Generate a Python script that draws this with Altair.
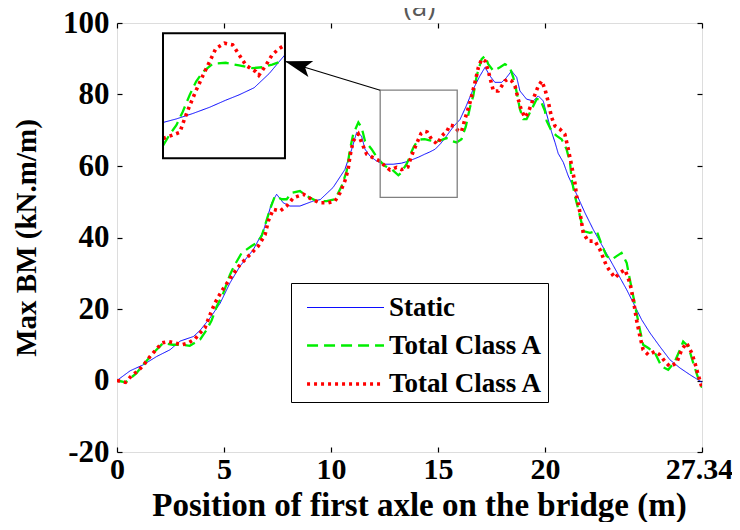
import math
import altair as alt
import pandas as pd

# ---------------- data ----------------
static_x = [0, 0.61, 1.23, 1.85, 2.48, 2.94, 3.57, 3.88, 4.35, 4.81, 5.28, 5.75, 6.37, 6.84, 7.0, 7.23,
            7.46, 7.77, 8.08, 8.55, 9.17, 9.5, 10.1, 10.65, 10.97, 11.2, 11.43, 11.59, 11.82, 12.13,
            12.44, 12.91, 13.3, 13.53, 13.81, 14.1, 14.38, 14.61, 14.87, 15.13, 15.4, 15.72, 16.03,
            16.3, 16.65, 16.96, 17.2, 17.43, 17.66, 17.98, 18.21, 18.44, 18.68, 18.83, 19.14, 19.45,
            19.69, 19.92, 20.08, 20.31, 20.47, 20.62, 20.86, 21.09, 21.48, 21.87, 22.26, 22.65, 23.04,
            23.43, 23.82, 24.13, 24.52, 24.91, 25.37, 25.84, 26.31, 26.78, 27.34]
static_y = [0, 2.7, 4.4, 6.7, 8.6, 11.0, 12.3, 14.0, 17.5, 21.5, 27.3, 32.0, 36.6, 41.8, 45.0, 49.7,
            52.1, 49.7, 48.8, 48.8, 50.2, 50.6, 54.0, 59.0, 64.7, 69.4, 68.4, 64.7, 62.8, 61.4,
            60.5, 60.5, 60.8, 61.2, 61.8, 62.5, 63.3, 63.9, 64.7, 66.3, 68.4, 71.0, 73.0,
            76.5, 81.5, 85.2, 87.6, 85.2, 83.4, 83.4, 84.8, 86.6, 84.8, 81.0, 78.7, 78.2,
            79.6, 78.2, 74.5, 69.5, 66.6, 63.5, 61.0, 57.2, 52.1, 46.9, 42.2, 38.0, 33.8,
            29.6, 25.4, 21.7, 17.0, 13.3, 9.5, 5.8, 3.5, 1.6, -0.5]

green_x = [0, 0.4, 0.9, 1.23, 1.7, 2.16, 2.6, 3.0, 3.4, 3.88, 4.19, 4.42, 4.66, 4.97, 5.28, 5.51, 5.83,
           6.29, 6.53, 6.76, 7.15, 7.38, 7.7, 7.93, 8.16, 8.55, 8.86, 9.33, 9.8, 10.19, 10.5, 10.73,
           10.89, 11.04, 11.28, 11.43, 11.59, 11.9, 12.21, 12.52, 12.84, 13.15, 13.3, 13.41, 13.53,
           13.64, 13.76, 13.87, 13.99, 14.16, 14.38, 14.61, 14.84, 15.01, 15.18, 15.4, 15.64, 15.87,
           16.1, 16.3, 16.5, 16.65, 16.81, 17.04, 17.2, 17.35, 17.59, 17.9, 18.13, 18.36, 18.52,
           18.68, 18.83, 18.99, 19.14, 19.38, 19.61, 19.77, 20.0, 20.08, 20.31, 20.55, 20.78, 21.01,
           21.17, 21.25, 21.4, 21.56, 21.71, 21.79, 22.1, 22.42, 22.65, 22.88, 23.12, 23.35, 23.58,
           23.82, 23.97, 24.13, 24.28, 24.44, 24.59, 24.83, 25.14, 25.45, 25.76, 26.07, 26.31,
           26.46, 26.7, 26.93, 27.16, 27.34]
green_y = [0, -0.5, 2.0, 4.4, 7.7, 10.5, 10.0, 10.0, 9.7, 11.4, 14.2, 16.8, 20.7, 24.5, 29.6, 32.4, 35.7,
           37.6, 38.5, 40.4, 47.9, 51.6, 50.7, 50.7, 52.5, 53.0, 51.6, 50.2, 50.2, 50.7, 54.4, 58.5,
           64.7, 68.9, 72.2, 70.8, 67.0, 64.7, 61.9, 60.0, 59.1, 57.4, 58.2, 59.4, 60.5,
           62.0, 63.9, 65.4, 66.5, 67.4, 67.5, 67.2, 66.9, 67.0, 67.3, 67.8, 67.0, 66.6,
           67.5, 71.0, 76.5, 79.6, 85.2, 89.9, 90.8, 88.5, 86.6, 87.6, 88.5, 87.6, 84.8,
           80.6, 75.9, 73.1, 73.1, 75.9, 78.7, 78.7, 75.4, 72.6, 69.8, 68.4, 67.5, 64.7,
           61.0, 56.3, 51.6, 47.9, 44.1, 41.8, 41.3, 41.8, 38.0, 34.8, 33.8, 34.8, 35.7,
           32.9, 28.2, 23.5, 18.9, 14.2, 10.0, 9.1, 7.7, 3.9, 3.0, 5.3, 8.6,
           10.9, 9.5, 4.9, 0.7, -2.0]

red_x = [0, 0.4, 0.69, 0.98, 1.23, 1.54, 1.85, 2.09, 2.4, 2.7, 3.02, 3.33, 3.64, 3.88, 4.11, 4.35, 4.58,
         4.89, 5.36, 5.75, 6.21, 6.6, 6.92, 7.07, 7.3, 7.62, 7.93, 8.24, 8.71, 9.1, 9.49, 9.88, 10.19,
         10.42, 10.65, 10.8, 10.89, 11.04, 11.28, 11.43, 11.67, 11.98, 12.29, 12.52, 12.76, 13.07,
         13.3, 13.47, 13.59, 13.67, 13.76, 13.87, 13.99, 14.1, 14.21, 14.36, 14.5, 14.61, 14.73,
         14.9, 14.95, 15.07, 15.18, 15.3, 15.4, 15.56, 15.75, 15.95, 16.1, 16.26, 16.5, 16.73,
         16.89, 17.04, 17.2, 17.35, 17.51, 17.59, 17.82, 17.98, 18.13, 18.29, 18.44, 18.6, 18.75,
         18.91, 19.07, 19.22, 19.45, 19.69, 19.85, 20.0, 20.16, 20.31, 20.47, 20.7, 20.93, 21.09,
         21.25, 21.4, 21.48, 21.64, 21.79, 22.02, 22.34, 22.57, 22.88, 23.27, 23.5, 23.74, 23.97,
         24.13, 24.28, 24.44, 24.59, 24.83, 25.14, 25.37, 25.61, 25.84, 26.15, 26.39, 26.62,
         26.86, 27.01, 27.16, 27.34]
red_y = [0, -0.5, 1.4, 2.7, 4.2, 6.7, 8.8, 10.5, 10.9, 10.5, 10.0, 10.5, 11.6, 13.3, 14.7, 18.4, 21.7,
         25.0, 29.2, 32.4, 35.2, 37.6, 40.8, 44.6, 47.9, 47.4, 48.8, 51.1, 52.1, 50.7, 49.7, 49.7, 50.2,
         52.5, 55.8, 59.0, 62.8, 67.0, 68.9, 66.6, 63.3, 62.3, 61.4, 60.0, 58.9, 59.6,
         59.0, 59.4, 59.7, 61.2, 62.7, 64.4, 66.1, 67.6, 69.1, 69.7, 69.5, 68.4, 67.2,
         66.5, 66.1, 67.2, 68.4, 69.1, 69.5, 71.4, 71.2, 69.8, 69.6, 73.1, 77.8, 83.4,
         87.6, 89.9, 89.4, 86.6, 82.9, 81.0, 81.0, 82.4, 83.8, 84.3, 83.8, 82.4, 78.7,
         75.4, 73.6, 75.0, 78.7, 82.4, 83.8, 81.5, 77.8, 73.6, 71.2, 70.3, 68.9, 64.7,
         60.0, 55.3, 51.6, 46.9, 41.3, 39.0, 39.0, 36.6, 32.0, 28.7, 30.1, 31.0, 27.3,
         22.6, 17.0, 12.3, 8.6, 7.2, 8.1, 7.2, 5.3, 3.9, 4.9, 8.6, 10.5,
         7.7, 4.9, 1.6, -2.0]

series_keys = ["s1", "s2", "s3"]
series_names = ["Static", "Total Class A", "Total Class A"]
series_colors = ["#0000ff", "#00ee00", "#ff0000"]
series_dash = [[1, 0], [11, 6], [3, 4]]
series_width = [1.0, 3.6, 3.6]

x_ticks = [0, 5, 10, 15, 20, 27.34]
y_ticks = [-20, 0, 20, 40, 60, 80, 100]
x_domain = [0, 27.34]
y_domain = [-20, 100]

zoom_box = [12.3, 15.9, 51.2, 81.2]          # region marked in the main plot
inset_src_x = [13.3, 15.4]                   # data range shown in the inset
inset_src_y = [56.8, 70.8]
inset_box = [2.15, 7.85, 62.2, 97.1]         # where the inset sits (main data coords)
arrow_from = [12.3, 81.2]
arrow_to = [7.85, 89.3]

# ---------------- layout ----------------
W, H = 585, 429
PAD_L, PAD_T = 109, 15
PAD_R, PAD_B = 740 - 16 - PAD_L - W, 530 - 16 - PAD_T - H
FONT = "Liberation Serif"

rows = []
for key, xs, ys in zip(series_keys, [static_x, green_x, red_x], [static_y, green_y, red_y]):
    for i, (xv, yv) in enumerate(zip(xs, ys)):
        rows.append({"series": key, "x": xv, "y": yv, "i": i})
df = pd.DataFrame(rows)

xs_ = alt.Scale(domain=x_domain, nice=False, zero=False)
ys_ = alt.Scale(domain=y_domain, nice=False, zero=False)

pad_txt = "\u00a0\u00a0\u00a0"
label_expr = " : ".join(
    [f"datum.value == '{k}' ? '{n}{pad_txt}'" for k, n in zip(series_keys[:-1], series_names[:-1])]
    + [f"'{series_names[-1]}{pad_txt}'"]
)

r = 19
legend = alt.Legend(
    title=None, orient="none", legendX=174, legendY=260,
    strokeColor="black", fillColor="white", padding=5, rowPadding=4,
    symbolType="M-3.05,0L1,0", symbolSize=(2 * r) ** 2, symbolOffset=48,
    labelOffset=3, labelFont=FONT, labelFontSize=27, labelFontWeight="bold",
    labelColor="black", labelExpr=label_expr, labelLimit=400,
)

color = alt.Color("series:N", scale=alt.Scale(domain=series_keys, range=series_colors), legend=legend)
dash = alt.StrokeDash("series:N", scale=alt.Scale(domain=series_keys, range=series_dash), legend=legend)
swidth = alt.StrokeWidth("series:N", scale=alt.Scale(domain=series_keys, range=series_width), legend=legend)

main_x_axis = alt.Axis(
    values=x_ticks, labelExpr="'' + datum.value", ticks=False, domain=False, grid=False,
    labelFont=FONT, labelFontSize=30, labelFontWeight="bold", labelColor="black",
    labelFlush=False, labelOverlap=False, labelPadding=2,
    labelOffset={"condition": {"test": f"datum.value == {x_ticks[-1]}", "value": -3}, "value": 0},
    title="Position of first axle on the bridge (m)", titleFont=FONT, titleFontSize=33,
    titleFontWeight="bold", titleColor="black", titleX=302, titleY=63,
    titleBaseline="alphabetic", titleAlign="center",
)
main_y_axis = alt.Axis(
    values=y_ticks, labelExpr="'' + datum.value", ticks=False, domain=False, grid=False,
    labelFont=FONT, labelFontSize=31, labelFontWeight="bold", labelColor="black",
    labelPadding=8, labelOverlap=False, labelFlush=False,
    title="Max BM (kN.m/m)", titleFont=FONT, titleFontSize=29, titleFontWeight="bold",
    titleColor="black", titleX=-82, titleY=H / 2, titleBaseline="alphabetic", titleAlign="center",
    titleAngle=270,
)

lines = alt.Chart(df).mark_line(clip=True).encode(
    x=alt.X("x:Q", scale=xs_, axis=main_x_axis),
    y=alt.Y("y:Q", scale=ys_, axis=main_y_axis),
    color=color, strokeDash=dash, strokeWidth=swidth,
    order="i:Q",
)

box_df = pd.DataFrame([{"x": zoom_box[0], "x2": zoom_box[1], "y": zoom_box[2], "y2": zoom_box[3]}])
zoom_rect = alt.Chart(box_df).mark_rect(fill=None, stroke="#808080", strokeWidth=1.3).encode(
    x=alt.X("x:Q", scale=xs_, axis=None), x2="x2", y=alt.Y("y:Q", scale=ys_, axis=None), y2="y2")

arr_df = pd.DataFrame([{"x": arrow_from[0], "y": arrow_from[1], "x2": arrow_to[0], "y2": arrow_to[1]}])
arrow_line = alt.Chart(arr_df).mark_rule(color="black", strokeWidth=1.2).encode(
    x=alt.X("x:Q", scale=xs_, axis=None), x2="x2", y=alt.Y("y:Q", scale=ys_, axis=None), y2="y2")
# screen direction from the arrow tip back to its tail (y grows downwards on screen)
dx_px = (arrow_from[0] - arrow_to[0]) * W / (x_domain[1] - x_domain[0])
dy_px = (arrow_to[1] - arrow_from[1]) * H / (y_domain[1] - y_domain[0])
ang = math.degrees(math.atan2(dy_px, dx_px)) % 360
arrow_head = alt.Chart(arr_df).mark_point(
    shape="M0,0L2,-0.62L1.55,0L2,0.62Z", size=27 ** 2, filled=True, color="black",
    opacity=1, angle=round(ang, 1)
).encode(x=alt.X("x2:Q", scale=xs_, axis=None), y=alt.Y("y2:Q", scale=ys_, axis=None))

ib_df = pd.DataFrame([{"x": inset_box[0], "x2": inset_box[1], "y": inset_box[2], "y2": inset_box[3]}])
inset_bg = alt.Chart(ib_df).mark_rect(fill="white").encode(
    x=alt.X("x:Q", scale=xs_, axis=None), x2="x2", y=alt.Y("y:Q", scale=ys_, axis=None), y2="y2")
inset_frame = alt.Chart(ib_df).mark_rect(fill=None, stroke="black", strokeWidth=2).encode(
    x=alt.X("x:Q", scale=xs_, axis=None), x2="x2", y=alt.Y("y:Q", scale=ys_, axis=None), y2="y2")

kx = (inset_box[1] - inset_box[0]) / (inset_src_x[1] - inset_src_x[0])
ky = (inset_box[3] - inset_box[2]) / (inset_src_y[1] - inset_src_y[0])
inset_lines = alt.Chart(df).transform_filter(
    alt.FieldRangePredicate(field="x", range=inset_src_x)
).transform_calculate(
    xi=f"{inset_box[0]} + (datum.x - {inset_src_x[0]}) * {kx}",
    yi=f"{inset_box[2]} + (datum.y - {inset_src_y[0]}) * {ky}",
).mark_line().encode(
    x=alt.X("xi:Q", scale=xs_, axis=None), y=alt.Y("yi:Q", scale=ys_, axis=None),
    color=color, strokeDash=dash, strokeWidth=swidth, order="i:Q",
)

# inward tick marks on all four sides
xt_df = pd.DataFrame({"v": x_ticks})
yt_df = pd.DataFrame({"v": y_ticks})
tick_common = dict(labels=False, title=None, domain=False, grid=False, tickSize=5,
                   tickColor="black", tickWidth=1.2)
ticks_top = alt.Chart(xt_df).mark_point(opacity=0).encode(
    x=alt.X("v:Q", scale=xs_, axis=alt.Axis(orient="bottom", offset=-H, values=x_ticks, **tick_common)))
ticks_bottom = alt.Chart(xt_df).mark_point(opacity=0).encode(
    x=alt.X("v:Q", scale=xs_, axis=alt.Axis(orient="top", offset=-H, values=x_ticks, **tick_common)))
ticks_left = alt.Chart(yt_df).mark_point(opacity=0).encode(
    y=alt.Y("v:Q", scale=ys_, axis=alt.Axis(orient="right", offset=-W, values=y_ticks, **tick_common)))
ticks_right = alt.Chart(yt_df).mark_point(opacity=0).encode(
    y=alt.Y("v:Q", scale=ys_, axis=alt.Axis(orient="left", offset=-W, values=y_ticks, **tick_common)))

chart = alt.layer(
    lines, zoom_rect, arrow_line, arrow_head, inset_bg, inset_lines, inset_frame,
    ticks_top, ticks_bottom, ticks_left, ticks_right,
).resolve_axis(x="independent", y="independent").properties(
    width=W, height=H,
    autosize=alt.AutoSizeParams(type="none"),
    padding={"left": PAD_L, "top": PAD_T, "right": PAD_R, "bottom": PAD_B},
    title=alt.TitleParams("(a)", font="Open Sans", fontSize=28, fontWeight="normal", color="#595959",
                          anchor="middle", offset=0, dy=37, baseline="alphabetic", frame="group", dx=10),
).configure_view(stroke="black", strokeWidth=1.5).configure(background="white")

chart.save("out.html", embed_options={"renderer": "svg", "actions": False})
